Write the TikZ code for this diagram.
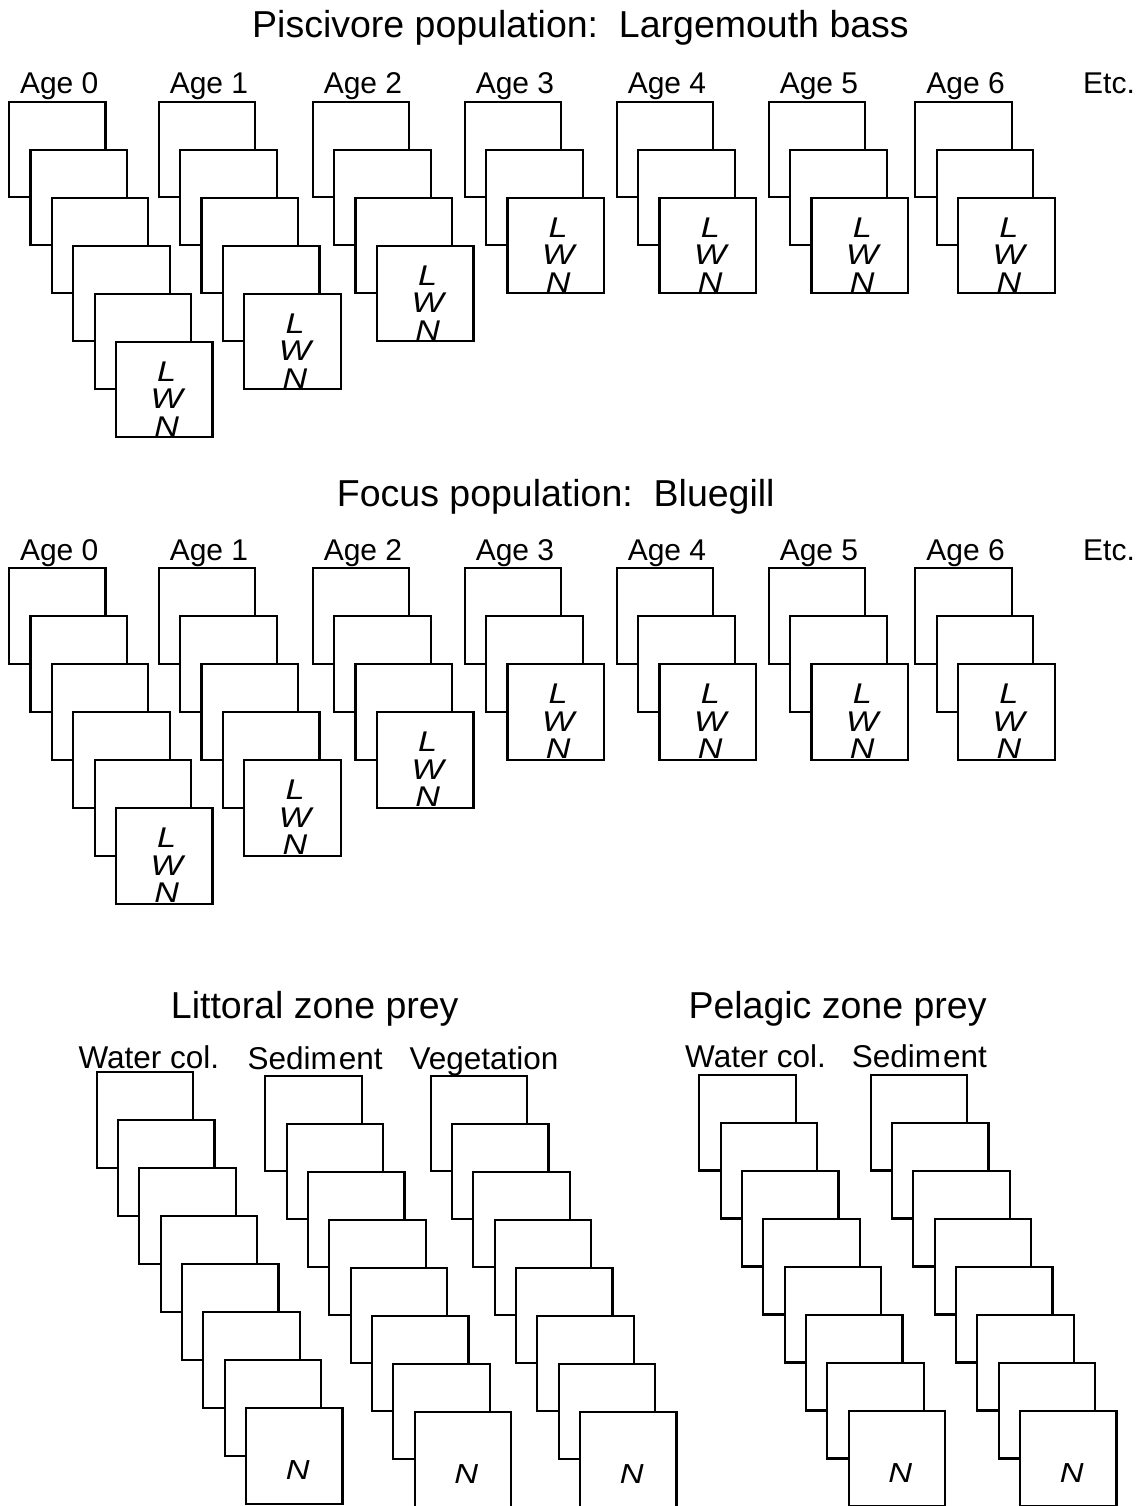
\documentclass[tikz,border=0pt]{standalone}
\usepackage{fontspec}
\usepackage{graphicx}
\setmainfont{Liberation Sans}
\newcommand{\wideltr}[1]{\scalebox{1.2}[1]{#1}}
\begin{document}
\begin{tikzpicture}[x=1pt,y=-1pt,
  box/.style={draw, fill=white, line width=2.2pt, minimum width=96.5pt, minimum height=95.5pt, inner sep=0pt, outer sep=0pt, anchor=north west},
  titletext/.style={font=\fontsize{37.5}{40}\selectfont, anchor=base west, inner sep=0pt},
  agelabel/.style={font=\fontsize{30}{32}\selectfont, anchor=base, inner sep=0pt},
  sublabel/.style={font=\fontsize{31.5}{34}\selectfont, anchor=base west, inner sep=0pt},
  lwn/.style={font=\fontsize{28.5}{27.5}\selectfont\itshape, align=center, anchor=north, inner sep=0pt},
  ntext/.style={font=\fontsize{27.5}{30}\selectfont\itshape, anchor=base, inner sep=0pt}]
\useasboundingbox[fill=white] (0,0) rectangle (1141,1506);

% titles
\node[titletext] (t1) at (252,38) {Piscivore population:\ \ Largemouth bass};
\node[titletext] (t2) at (336.7,506.7) {Focus population:\ \ Bluegill};
\node[titletext] (t3) at (170.7,1018.3) {Littoral zone prey};
\node[titletext] (t4) at (688.3,1018.3) {Pelagic zone prey};

% fish populations
\foreach \s/\ty/\tb in {a/101.7/93.3, b/568.3/560}{
  \foreach \k/\x/\cnt in {0/9/6,1/158.7/5,2/312.7/4,3/464.7/3,4/616.7/3,5/768.7/3,6/915.3/3}{
    \node[agelabel] (\s lab\k) at ({\x+50.25},{\tb}) {Age \k};
    \foreach \i in {1,...,\cnt}{
      \node[box] (\s b\k-\i) at ({\x+(\i-1)*21.4},{\ty+(\i-1)*48}) {};
    }
    \node[lwn] (\s t\k) at ([xshift=2.5pt,yshift=-19.5pt]\s b\k-\cnt.north) {\wideltr{L}\\\wideltr{W}\\\wideltr{N}};
  }
  \node[agelabel, anchor=base west] (\s etc) at (1083,{\tb}) {Etc.};
}

% prey
\node[sublabel] (lw) at (78.3,1068.5) {Water col.};
\node[sublabel] (ls) at (247.3,1069.5) {Sedim\kern2pt ent};
\node[sublabel] (lv) at (409.3,1069.5) {Vegetation};
\node[sublabel] (pw) at (685,1067) {Water col.};
\node[sublabel] (ps) at (851.7,1067) {Sedim\kern2pt ent};

\foreach \g/\x/\y in {pw/96.7/1072.3, ps/265.3/1075.7, pv/430.7/1075.7, qw/699.3/1075, qs/870.7/1075}{
  \foreach \i in {1,...,8}{
    \node[box] (\g\i) at ({\x+(\i-1)*21.33},{\y+(\i-1)*48}) {};
  }
  \node[ntext] (\g-n) at ([xshift=3.5pt,yshift=-71.5pt]\g8.north) {\wideltr{N}};
}
\end{tikzpicture}
\end{document}
